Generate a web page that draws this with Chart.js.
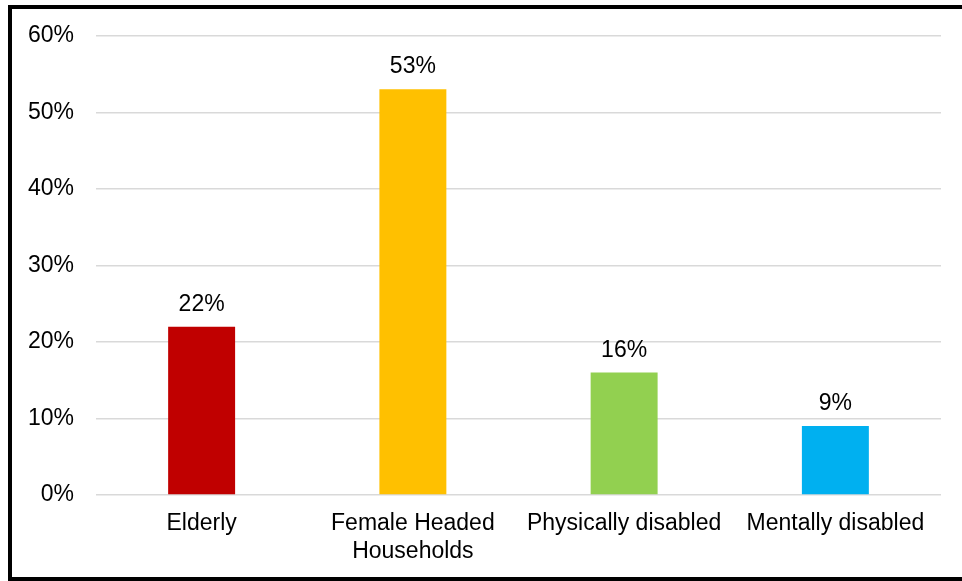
<!DOCTYPE html>
<html>
<head>
<meta charset="utf-8">
<script src="https://cdn.jsdelivr.net/npm/chart.js@4/dist/chart.umd.min.js"></script>
<style>
    html, body { margin: 0; padding: 0; background: #fff; overflow: hidden; }
    #wrap { position: relative; width: 962px; height: 581px; }
    #frame {
        position: absolute; left: 8px; top: 5px; width: 980px; height: 568px;
        border: 4px solid #000; border-right: none; pointer-events: none;
    }
</style>
</head>
<body>
<div id="wrap">
    <canvas id="chart" width="962" height="581"></canvas>
    <div id="frame"></div>
</div>
<script>
const CATEGORIES = [ 'Elderly', [ 'Female Headed', 'Households' ], 'Physically disabled', 'Mentally disabled' ];
const VALUES     = [ 22, 53, 16, 9 ];
const COLOURS    = [ '#C00000', '#FFC000', '#92D050', '#00B0F0' ];
const Y_TICKS    = [ 0, 10, 20, 30, 40, 50, 60 ];

const FONT = { family: 'Arial, "Liberation Sans", sans-serif', size: 23, lineHeight: 1.2 };

// value labels sitting above each bar
const barLabels = {
    id: 'barLabels',
    afterDatasetsDraw( chart ) {
        const { ctx } = chart;
        ctx.save();
        ctx.font = `${ FONT.size }px ${ FONT.family }`;
        ctx.fillStyle = '#000';
        ctx.textAlign = 'center';
        ctx.textBaseline = 'alphabetic';
        chart.getDatasetMeta( 0 ).data.forEach( ( bar, i ) => {
            ctx.fillText( VALUES[ i ] + '%', bar.x, bar.y - 16 );
        } );
        ctx.restore();
    },
};

new Chart( document.getElementById( 'chart' ), {
    type: 'bar',
    data: {
        labels: CATEGORIES,
        datasets: [ {
            data: VALUES,
            backgroundColor: COLOURS,
            categoryPercentage: 1,
            barPercentage: 0.317,
        } ],
    },
    options: {
        responsive: false,
        animation: false,
        layout: { padding: { top: 35, right: 21, left: 0, bottom: 0 } },
        plugins: { legend: { display: false }, tooltip: { enabled: false } },
        scales: {
            x: {
                grid: { display: false, drawTicks: false },
                border: { display: false },
                ticks: { color: '#000', font: FONT, padding: 15, maxRotation: 0, autoSkip: false },
                afterFit: ( s ) => { s.height = 86; },
            },
            y: {
                min: 0,
                max: 60,
                afterBuildTicks: ( s ) => { s.ticks = Y_TICKS.map( ( v ) => ( { value: v } ) ); },
                grid: { color: '#D9D9D9', lineWidth: 1.5, drawTicks: false },
                border: { display: false },
                ticks: { color: '#000', font: FONT, padding: 22, callback: ( v ) => v + '%' },
                afterFit: ( s ) => { s.width = 96; },
            },
        },
    },
    plugins: [ barLabels ],
} );
</script>
</body>
</html>
